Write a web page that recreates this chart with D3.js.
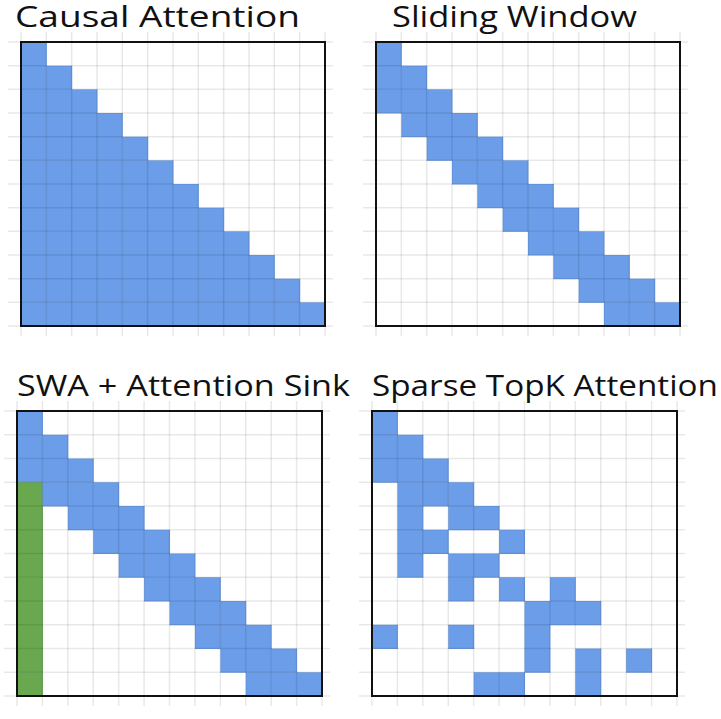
<!DOCTYPE html>
<html>
<head>
<meta charset="utf-8">
<script src="https://cdn.jsdelivr.net/npm/d3@7"></script>
<style>
  body { margin: 0; background: #fff; }
</style>
</head>
<body>
<div id="chart"></div>
<script>
// Masks: one string per query row, one char per key column (b = attended, g = sink, . = masked)
const titles = ["Causal Attention", "Sliding Window", "SWA + Attention Sink", "Sparse TopK Attention"];

const causalMask = [
  "b...........", "bb..........", "bbb.........", "bbbb........",
  "bbbbb.......", "bbbbbb......", "bbbbbbb.....", "bbbbbbbb....",
  "bbbbbbbbb...", "bbbbbbbbbb..", "bbbbbbbbbbb.", "bbbbbbbbbbbb"
];
const slidingMask = [
  "b...........", "bb..........", "bbb.........", ".bbb........",
  "..bbb.......", "...bbb......", "....bbb.....", ".....bbb....",
  "......bbb...", ".......bbb..", "........bbb.", ".........bbb"
];
const sinkMask = [
  "b...........", "bb..........", "bbb.........", "gbbb........",
  "g.bbb.......", "g..bbb......", "g...bbb.....", "g....bbb....",
  "g.....bbb...", "g......bbb..", "g.......bbb.", "g........bbb"
];
const sparseMask = [
  "b...........", "bb..........", "bbb.........", ".bbb........",
  ".b.bb.......", ".bb..b......", ".b.bb.......", "...b.b.b....",
  "......bbb...", "b..b..b.....", "......b.b.b.", "....bb..b..."
];
const masks = [causalMask, slidingMask, sinkMask, sparseMask];

const width = 721, height = 719;
const n = 12;
const panels = [
  { x0: 21, x1: 325, y0: 42, y1: 326, tx: 15, tw: 285, ty: 27 },
  { x0: 376, x1: 680, y0: 42, y1: 326, tx: 392, tw: 245, ty: 27 },
  { x0: 17, x1: 322, y0: 411, y1: 696, tx: 17, tw: 333, ty: 396 },
  { x0: 372, x1: 677, y0: 411, y1: 696, tx: 372, tw: 346, ty: 396 }
];
const colors = { b: "#6b9de8", g: "#6aa84f" };

const svg = d3.select("#chart").append("svg")
  .attr("width", width)
  .attr("height", height);

panels.forEach((p, k) => {
  const x = d3.scaleBand().domain(d3.range(n)).range([p.x0, p.x1]);
  const y = d3.scaleBand().domain(d3.range(n)).range([p.y0, p.y1]);
  const g = svg.append("g");

  const cells = [];
  masks[k].forEach((row, r) => row.split("").forEach((c, ci) => {
    if (c !== ".") cells.push({ r, c: ci, t: c });
  }));

  g.selectAll("rect.cell")
    .data(cells)
    .enter()
    .append("rect")
    .attr("class", "cell")
    .attr("x", d => x(d.c))
    .attr("y", d => y(d.r))
    .attr("width", x.bandwidth() + 0.5)
    .attr("height", y.bandwidth() + 0.5)
    .style("fill", d => colors[d.t]);

  // Grid lines, overhanging the frame a little
  const lines = d3.range(n + 1);
  const xPos = i => p.x0 + i * x.step();
  const yPos = i => p.y0 + i * y.step();
  g.selectAll("line.v")
    .data(lines)
    .enter()
    .append("line")
    .attr("x1", xPos).attr("x2", xPos)
    .attr("y1", p.y0 - 10).attr("y2", p.y1 + 10)
    .style("stroke", "rgba(0,0,0,0.09)")
    .style("stroke-width", 1.5);
  g.selectAll("line.h")
    .data(lines)
    .enter()
    .append("line")
    .attr("x1", p.x0 - 13).attr("x2", p.x1 + 8)
    .attr("y1", yPos).attr("y2", yPos)
    .style("stroke", "rgba(0,0,0,0.09)")
    .style("stroke-width", 1.5);

  g.append("rect")
    .attr("x", p.x0).attr("y", p.y0)
    .attr("width", p.x1 - p.x0).attr("height", p.y1 - p.y0)
    .style("fill", "none")
    .style("stroke", "#111")
    .style("stroke-width", 2);

  svg.append("text")
    .attr("x", p.tx)
    .attr("y", p.ty)
    .attr("textLength", p.tw)
    .attr("lengthAdjust", "spacingAndGlyphs")
    .style("font-family", "'Open Sans', sans-serif")
    .style("font-size", "29px")
    .style("fill", "#111")
    .text(titles[k]);
});
</script>
</body>
</html>
